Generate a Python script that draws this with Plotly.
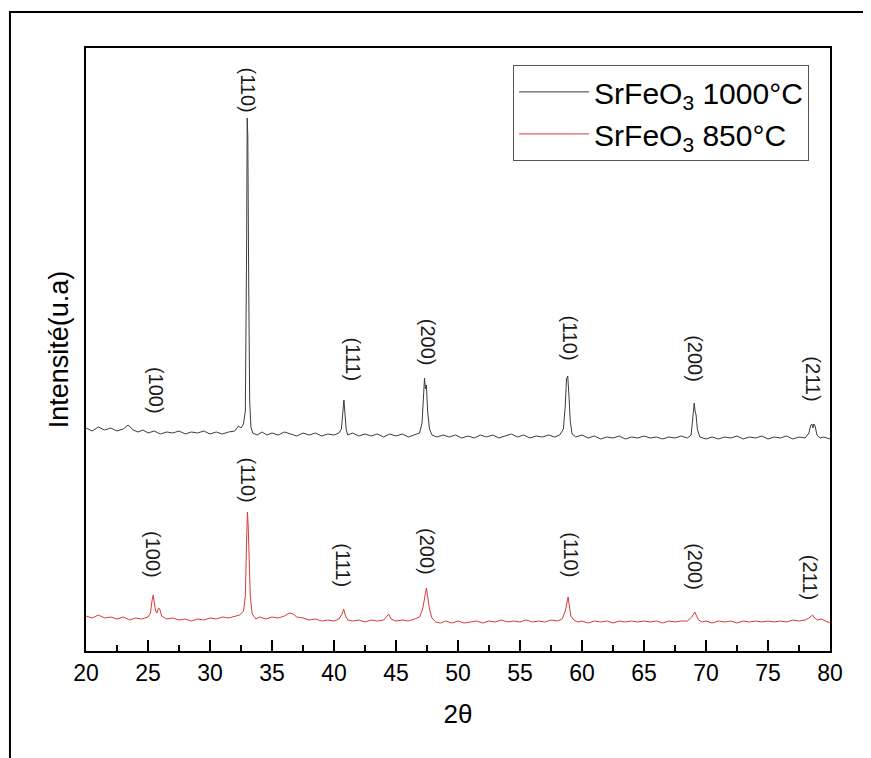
import plotly.graph_objects as go

# ---------------- data (arbitrary units) ----------------
x_1000 = [20.0, 20.5, 21.0, 21.5, 22.0, 22.5, 23.0, 23.4, 23.8, 24.2, 24.6, 25.0, 25.5, 26.0, 26.5,
          27.0, 27.5, 28.0, 28.5, 29.0, 29.5, 30.0, 30.5, 31.0, 31.5, 32.0, 32.3, 32.5, 32.7, 32.85,
          32.95, 33.0, 33.05, 33.12, 33.2, 33.3, 33.45, 33.8, 34.2, 34.6, 35.0, 35.5, 36.0, 36.5,
          37.0, 37.5, 38.0, 38.5, 39.0, 39.5, 40.0, 40.4, 40.6, 40.72, 40.8, 40.88, 40.98, 41.1,
          41.5, 42.0, 42.5, 43.0, 43.5, 44.0, 44.5, 45.0, 45.5, 46.0, 46.5, 46.9, 47.1, 47.22, 47.3,
          47.38, 47.45, 47.55, 47.7, 47.9, 48.3, 48.8, 49.3, 49.8, 50.3, 50.8, 51.3, 51.8, 52.3,
          52.8, 53.3, 53.8, 54.3, 54.8, 55.3, 55.8, 56.3, 56.8, 57.3, 57.8, 58.2, 58.5, 58.65,
          58.75, 58.85, 58.95, 59.05, 59.2, 59.5, 60.0, 60.5, 61.0, 61.5, 62.0, 62.5, 63.0, 63.5,
          64.0, 64.5, 65.0, 65.5, 66.0, 66.5, 67.0, 67.5, 68.0, 68.5, 68.8, 68.95, 69.05, 69.12,
          69.2, 69.3, 69.5, 70.0, 70.5, 71.0, 71.5, 72.0, 72.5, 73.0, 73.5, 74.0, 74.5, 75.0, 75.5,
          76.0, 76.5, 77.0, 77.5, 78.0, 78.3, 78.45, 78.55, 78.62, 78.7, 78.8, 78.95, 79.2, 79.5, 80.0]
y_1000 = [223, 220, 224, 221, 223, 220, 222, 226, 221, 219, 221, 218, 220, 217, 219,
          218, 220, 217, 219, 218, 220, 217, 219, 217, 219, 220, 225, 223, 227, 240,
          400, 533, 515, 370, 250, 224, 218, 216, 219, 216, 218, 216, 219, 217,
          215, 218, 216, 218, 215, 217, 216, 218, 222, 240, 251, 238, 222, 216,
          218, 215, 217, 215, 217, 214, 217, 215, 217, 214, 216, 218, 228, 262, 273,
          262, 266, 240, 222, 216, 214, 216, 214, 216, 213, 215, 213, 216, 214,
          216, 213, 215, 217, 214, 216, 213, 215, 214, 216, 214, 216, 222, 245,
          272, 275, 255, 230, 217, 214, 216, 213, 215, 212, 214, 213, 215, 212,
          214, 213, 215, 213, 214, 212, 214, 213, 215, 213, 216, 232, 248, 240,
          236, 222, 214, 212, 214, 212, 214, 213, 215, 212, 214, 213, 215, 212, 214,
          213, 215, 212, 214, 213, 218, 226, 227, 223, 227, 225, 216, 213, 214, 212]

x_850 = [20.0, 20.5, 21.0, 21.5, 22.0, 22.5, 23.0, 23.5, 24.0, 24.5, 25.0, 25.2, 25.32, 25.42,
         25.52, 25.62, 25.72, 25.85, 25.95, 26.1, 26.5, 27.0, 27.5, 28.0, 28.5, 29.0, 29.5, 30.0,
         30.5, 31.0, 31.5, 32.0, 32.4, 32.7, 32.85, 32.95, 33.02, 33.08, 33.15, 33.25, 33.4, 33.7,
         34.0, 34.5, 35.0, 35.5, 36.0, 36.4, 36.7, 37.0, 37.5, 38.0, 38.5, 39.0, 39.5, 40.0, 40.4,
         40.65, 40.78, 40.9, 41.1, 41.5, 42.0, 42.5, 43.0, 43.5, 44.0, 44.3, 44.42, 44.6, 45.0,
         45.5, 46.0, 46.5, 46.9, 47.15, 47.3, 47.45, 47.55, 47.7, 47.9, 48.2, 48.6, 49.0, 49.5,
         50.0, 50.5, 51.0, 51.5, 52.0, 52.5, 53.0, 53.5, 54.0, 54.5, 55.0, 55.5, 56.0, 56.5, 57.0,
         57.5, 58.0, 58.4, 58.65, 58.8, 58.88, 58.98, 59.1, 59.35, 59.7, 60.0, 60.5, 61.0, 61.5,
         62.0, 62.5, 63.0, 63.5, 64.0, 64.5, 65.0, 65.5, 66.0, 66.5, 67.0, 67.5, 68.0, 68.5, 68.85,
         69.0, 69.1, 69.2, 69.4, 69.7, 70.0, 70.5, 71.0, 71.5, 72.0, 72.5, 73.0, 73.5, 74.0, 74.5,
         75.0, 75.5, 76.0, 76.5, 77.0, 77.5, 78.0, 78.3, 78.5, 78.6, 78.75, 79.0, 79.3, 79.6, 80.0]
y_850 = [35, 33, 36, 33, 34, 32, 34, 31, 33, 32, 34, 38, 50, 56,
         47, 40, 38, 43, 42, 35, 32, 33, 31, 32, 30, 32, 31, 33,
         32, 34, 33, 35, 36, 40, 55, 110, 139, 125, 95, 55, 37, 32,
         34, 32, 34, 33, 35, 38, 37, 34, 33, 31, 32, 30, 31, 30, 32,
         37, 42, 36, 31, 30, 31, 29, 31, 30, 31, 35, 37, 32, 30,
         31, 30, 32, 34, 42, 55, 63, 55, 42, 33, 29, 28, 30, 28,
         30, 28, 29, 30, 28, 30, 29, 31, 29, 30, 29, 31, 29, 30, 29,
         31, 30, 32, 40, 52, 54, 45, 35, 31, 29, 30, 28, 30, 29,
         30, 28, 30, 29, 30, 29, 30, 29, 30, 28, 30, 29, 30, 30, 34,
         38, 39, 36, 31, 29, 30, 28, 30, 29, 30, 28, 30, 29, 30, 29,
         30, 29, 30, 29, 31, 30, 31, 33, 35, 36, 33, 31, 32, 30, 28]

names = ["SrFeO<sub>3</sub> 1000°C", "SrFeO<sub>3</sub> 850°C"]
colors = ["#3c3c3c", "#dc3a3a"]

# peak labels (Miller indices) : position (2θ), label height (a.u.)
hkl_1000 = ["(100)", "(110)", "(111)", "(200)", "(110)", "(200)", "(211)"]
lx_1000 = [25.65, 33.1, 41.5, 47.6, 59.0, 69.1, 78.6]
ly_1000 = [261, 561, 292, 309, 313, 292, 272]
hkl_850 = ["(100)", "(110)", "(111)", "(200)", "(110)", "(200)", "(211)"]
lx_850 = [25.4, 33.1, 40.7, 47.5, 59.1, 69.1, 78.4]
ly_850 = [96, 171, 86, 100, 96, 84, 74]

x_ticks = list(range(20, 81, 5))

# ---------------- figure ----------------
fig = go.Figure()
fig.add_trace(go.Scatter(x=x_1000, y=y_1000, mode="lines", name=names[0],
                         line=dict(color=colors[0], width=1)))
fig.add_trace(go.Scatter(x=x_850, y=y_850, mode="lines", name=names[1],
                         line=dict(color=colors[1], width=1)))

ann_font = dict(family="Arial, Liberation Sans, sans-serif", size=20, color="#1a1a1a")
for t, xx, yy in list(zip(hkl_1000, lx_1000, ly_1000)) + list(zip(hkl_850, lx_850, ly_850)):
    fig.add_annotation(x=xx, y=yy, text=t, textangle=90, showarrow=False, font=ann_font)

# outer frame of the picture (runs off the right and bottom edges)
fig.add_shape(type="rect", xref="paper", yref="paper",
              x0=-0.1022, x1=1.15, y0=-0.28, y1=1.0597,
              line=dict(color="black", width=2), layer="above")

fig.update_layout(
    width=863, height=750,
    margin=dict(l=78, r=41, t=40, b=107, autoexpand=False),
    paper_bgcolor="white", plot_bgcolor="white",
    font=dict(family="Arial, Liberation Sans, sans-serif", color="black"),
    showlegend=True,
    legend=dict(x=0.574, y=0.972, xanchor="left", yanchor="top",
                bordercolor="#555555", borderwidth=1, bgcolor="white",
                font=dict(size=30, family="Arial, Liberation Sans, sans-serif"),
                itemwidth=70),
    xaxis=dict(range=[20, 80], tickvals=x_ticks, ticks="inside", ticklen=11, tickwidth=1.5,
               tickcolor="black", showline=True, linecolor="black", linewidth=2, mirror=True,
               showgrid=False, zeroline=False,
               tickfont=dict(size=23, family="Arial, Liberation Sans, sans-serif"),
               minor=dict(dtick=2.5, ticks="inside", ticklen=6, tickwidth=1.5, tickcolor="black"),
               title=dict(text="2θ", font=dict(size=26), standoff=20)),
    yaxis=dict(range=[0, 603], showticklabels=False, ticks="", showline=True,
               linecolor="black", linewidth=2, mirror=True, showgrid=False, zeroline=False,
               title=dict(text="Intensité(u.a)", font=dict(size=27), standoff=8)),
)

fig.write_html("out.html")
